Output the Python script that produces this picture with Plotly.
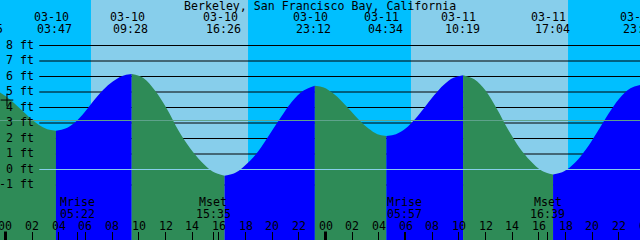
import plotly.graph_objects as go

TITLE = "Berkeley, San Francisco Bay, California"

# Tide extremes: hours since 03-10 00:00, height in ft
event_t = [-1.417, 3.783, 9.467, 16.433, 23.2, 28.567, 34.317, 41.067, 47.7]
event_h = [5.20, 2.50, 6.16, -0.40, 5.41, 2.16, 6.08, -0.33, 5.47]
event_date = ["03-09", "03-10", "03-10", "03-10", "03-10", "03-11", "03-11", "03-11", "03-11"]
event_clock = ["22:35", "03:47", "09:28", "16:26", "23:12", "04:34", "10:19", "17:04", "23:42"]

# Tide curve readings (hours, ft)
curve_t = [-1.417, -0.767, -0.117, 0.533, 1.183, 1.833, 2.483, 3.133, 3.783,
           4.494, 5.204, 5.915, 6.625, 7.336, 8.046, 8.757, 9.467,
           10.338, 11.209, 12.079, 12.950, 13.821, 14.692, 15.563, 16.433,
           17.279, 18.125, 18.971, 19.817, 20.663, 21.508, 22.354, 23.2,
           23.871, 24.542, 25.213, 25.884, 26.554, 27.225, 27.896, 28.567,
           29.286, 30.004, 30.723, 31.442, 32.161, 32.879, 33.598, 34.317,
           35.161, 36.004, 36.848, 37.692, 38.536, 39.379, 40.223, 41.067,
           41.896, 42.725, 43.554, 44.384, 45.213, 46.042, 46.871, 47.7]
curve_h = [5.20, 5.10, 4.81, 4.37, 3.85, 3.33, 2.89, 2.60, 2.50,
           2.64, 3.04, 3.68, 4.45, 5.15, 5.68, 6.04, 6.16,
           5.91, 5.10, 3.95, 2.55, 1.40, 0.50, -0.15, -0.40,
           -0.20, 0.38, 1.20, 2.28, 3.38, 4.40, 5.10, 5.41,
           5.29, 4.93, 4.41, 3.79, 3.16, 2.64, 2.28, 2.16,
           2.28, 2.64, 3.25, 4.02, 4.80, 5.47, 5.92, 6.08,
           5.82, 5.10, 3.92, 2.58, 1.42, 0.55, -0.08, -0.33,
           -0.12, 0.45, 1.32, 2.42, 3.58, 4.58, 5.24, 5.47]

sunrise_t = [6.41, 30.41]
sunset_t = [18.19, 42.19]

moon_t = [5.367, 15.583, 29.95, 40.65]
moon_name = ["Mrise", "Mset", "Mrise", "Mset"]
moon_clock = ["05:22", "15:35", "05:57", "16:39"]

hour_t = [0, 2, 4, 6, 8, 10, 12, 14, 16, 18, 20, 22, 24, 26, 28, 30, 32, 34, 36, 38, 40, 42, 44, 46, 48]
hour_labels = ["00", "02", "04", "06", "08", "10", "12", "14", "16", "18", "20", "22",
               "00", "02", "04", "06", "08", "10", "12", "14", "16", "18", "20", "22", "00"]
midnight_t = [0, 24]

level_ft = [8, 7, 6, 5, 4, 3, 2, 1, 0, -1]
level_labels = ["8 ft", "7 ft", "6 ft", "5 ft", "4 ft", "3 ft", "2 ft", "1 ft", "0 ft", "-1 ft"]
mean_level = 3.16
mark_t, mark_h = 0.11, 4.48

# ---- styling ----
W, H = 640, 240
X_RANGE = [-0.4125, 47.5875]
Y_RANGE = [-4.548, 10.935]
NIGHT = "#00BFFF"
DAY = "#87CEEB"
EBB = "#2E8B57"
FLOOD = "#0000FF"
FONT = dict(family="DejaVu Sans Mono", size=11.6, color="black")


def xfrac(t):
    return (t - X_RANGE[0]) / (X_RANGE[1] - X_RANGE[0])


def yfrac_px(py):
    return 1 - py / H


fig = go.Figure()

# water fills, one segment per rise/fall
bottom = Y_RANGE[0] - 2
for i in range(len(event_t) - 1):
    t0, t1 = event_t[i], event_t[i + 1]
    seg = [(t, h) for t, h in zip(curve_t, curve_h) if t0 - 1e-6 <= t <= t1 + 1e-6]
    color = FLOOD if event_h[i + 1] > event_h[i] else EBB
    fig.add_trace(go.Scatter(x=[t0, t1], y=[bottom, bottom], mode="lines",
                             line=dict(width=0), hoverinfo="skip", showlegend=False))
    fig.add_trace(go.Scatter(x=[p[0] for p in seg], y=[p[1] for p in seg], mode="lines",
                             line=dict(width=0, color=color, shape="spline"),
                             fill="tonexty", fillcolor=color, hoverinfo="skip", showlegend=False))

fig.add_trace(go.Scatter(x=[mark_t], y=[mark_h], mode="markers",
                         marker=dict(symbol="cross-thin", size=9, line=dict(width=1, color="black")),
                         hoverinfo="skip", showlegend=False))

shapes = []
for a, b in zip(sunrise_t, sunset_t):
    shapes.append(dict(type="rect", xref="x", yref="paper", x0=a, x1=b, y0=0, y1=1,
                       fillcolor=DAY, line=dict(width=0), layer="below"))
for lv in level_ft:
    if lv == 0:
        continue
    shapes.append(dict(type="line", xref="paper", yref="y", x0=39.3 / W, x1=1, y0=lv, y1=lv,
                       line=dict(color="black", width=1), layer="below"))
shapes.append(dict(type="line", xref="paper", yref="y", x0=39.3 / W, x1=1, y0=0, y1=0,
                   line=dict(color=DAY, width=1), layer="above"))
shapes.append(dict(type="line", xref="paper", yref="y", x0=0, x1=1, y0=mean_level, y1=mean_level,
                   line=dict(color="#5FA38C", width=1), layer="above"))
for m in midnight_t:
    shapes.append(dict(type="line", xref="x", yref="paper", x0=m, x1=m, y0=0, y1=8.5 / H,
                       line=dict(color="black", width=3), layer="above"))

ann = []
ann.append(dict(text=TITLE, xref="paper", yref="paper", x=0.5, y=yfrac_px(5.5),
                xanchor="center", yanchor="middle", showarrow=False, font=FONT))
for t, d, c in zip(event_t, event_date, event_clock):
    ann.append(dict(text=d, xref="paper", yref="paper", x=xfrac(t), xshift=-4.5, y=yfrac_px(17.5),
                    xanchor="center", yanchor="middle", showarrow=False, font=FONT))
    ann.append(dict(text=c, xref="paper", yref="paper", x=xfrac(t), xshift=-1, y=yfrac_px(29.3),
                    xanchor="center", yanchor="middle", showarrow=False, font=FONT))
for lv, lab in zip(level_ft, level_labels):
    ann.append(dict(text=lab, xref="paper", yref="y", x=36 / W, y=lv, yshift=1,
                    xanchor="right", yanchor="middle", showarrow=False, font=FONT))
for t, n, c in zip(moon_t, moon_name, moon_clock):
    ann.append(dict(text=n, xref="paper", yref="paper", x=xfrac(t), y=yfrac_px(202),
                    xanchor="center", yanchor="middle", showarrow=False, font=FONT))
    ann.append(dict(text=c, xref="paper", yref="paper", x=xfrac(t), y=yfrac_px(213.5),
                    xanchor="center", yanchor="middle", showarrow=False, font=FONT))
for t, lab in zip(hour_t, hour_labels):
    ann.append(dict(text=lab, xref="paper", yref="paper", x=xfrac(t), y=yfrac_px(226),
                    xanchor="center", yanchor="middle", showarrow=False, font=FONT))

fig.update_layout(
    width=W, height=H, margin=dict(l=0, r=0, t=0, b=0), autosize=False,
    paper_bgcolor=NIGHT, plot_bgcolor="rgba(0,0,0,0)",
    shapes=shapes, annotations=ann, showlegend=False,
    xaxis=dict(range=X_RANGE, showgrid=False, zeroline=False, showline=False,
               tickmode="array", tickvals=[t for t in hour_t if t % 24 != 0] + moon_t,
               ticks="inside", ticklen=8, tickwidth=1, tickcolor="black",
               showticklabels=False, fixedrange=True),
    yaxis=dict(range=Y_RANGE, showgrid=False, zeroline=False, showline=False,
               showticklabels=False, ticks="", fixedrange=True),
)

fig.write_html("out.html", config=dict(displayModeBar=False))
